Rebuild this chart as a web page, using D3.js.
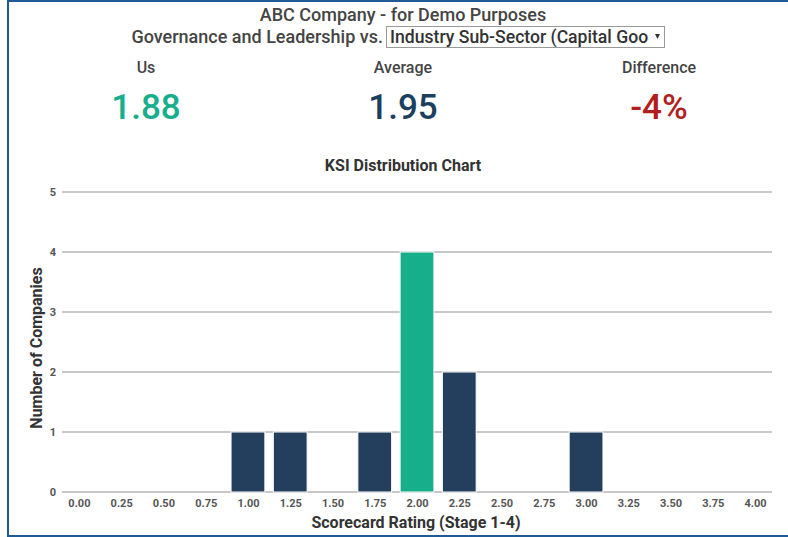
<!DOCTYPE html>
<html><head><meta charset="utf-8">
<script src="https://cdn.jsdelivr.net/npm/d3@7"></script>
<style>
html,body{margin:0;padding:0;background:#fff;}
svg{display:block;font-family:Roboto,"Noto Sans",sans-serif;}
</style></head>
<body><svg id="c" width="788" height="537"></svg>
<script>
const title = "ABC Company - for Demo Purposes";
const subtitle = "Governance and Leadership vs.";
const selectText = "Industry Sub-Sector (Capital Goo";
const statLabels = ["Us", "Average", "Difference"];
const statValues = ["1.88", "1.95", "-4%"];
const statColors = ["#17ae8c", "#1b3f5f", "#b21d1d"];
const chartTitle = "KSI Distribution Chart";
const xTitle = "Scorecard Rating (Stage 1-4)";
const yTitle = "Number of Companies";
const xTicks = [0,0.25,0.5,0.75,1,1.25,1.5,1.75,2,2.25,2.5,2.75,3,3.25,3.5,3.75,4];
const yTicks = [0,1,2,3,4,5];
const binRatings = [1.00, 1.25, 1.75, 2.00, 2.25, 3.00];
const binCounts  = [1, 1, 1, 4, 2, 1];
const highlightRating = 2.00;

const svg = d3.select("#c");
// frame
svg.append("rect").attr("x",0).attr("y",0).attr("width",788).attr("height",537).attr("fill","#fff");
svg.append("line").attr("x1",7).attr("x2",788).attr("y1",1).attr("y2",1).attr("stroke","#1f5a96").attr("stroke-width",2);
svg.append("line").attr("x1",8).attr("x2",8).attr("y1",0).attr("y2",537).attr("stroke","#1f5a96").attr("stroke-width",2);
svg.append("line").attr("x1",7).attr("x2",788).attr("y1",536).attr("y2",536).attr("stroke","#1f5a96").attr("stroke-width",2);

svg.append("text").attr("x",403).attr("y",21).attr("text-anchor","middle")
  .attr("font-size",18).attr("fill","#444").attr("font-weight",500).text(title);
svg.append("text").attr("x",383).attr("y",43).attr("text-anchor","end")
  .attr("font-size",18).attr("fill","#444").attr("font-weight",500).text(subtitle);
svg.append("rect").attr("x",386.5).attr("y",26.5).attr("width",278).attr("height",21)
  .attr("fill","#fff").attr("stroke","#999");
svg.append("text").attr("x",390).attr("y",43).attr("font-size",17.6).attr("fill","#333").attr("font-weight",500).text(selectText);
svg.append("path").attr("d","M655,34 L660,34 L657.5,39 Z").attr("fill","#333");

const statX = [146, 403, 659];
statLabels.forEach((l,i)=>{
  svg.append("text").attr("x",statX[i]).attr("y",73).attr("text-anchor","middle")
    .attr("font-size",16).attr("font-weight",500).attr("fill","#444").text(l);
  svg.append("text").attr("x",statX[i]).attr("y",119).attr("text-anchor","middle")
    .attr("font-size",35).attr("font-weight",500).attr("fill",statColors[i]).text(statValues[i]);
});

svg.append("text").attr("x",403).attr("y",171).attr("text-anchor","middle")
  .attr("font-size",16).attr("font-weight",700).attr("fill","#333").text(chartTitle);

const x = d3.scaleLinear().domain([-0.1,4.1]).range([62,772]);
const y = d3.scaleLinear().domain([0,5]).range([492,192]);

// gridlines
svg.append("g").selectAll("line").data(yTicks).join("line")
  .attr("x1",62).attr("x2",772).attr("y1",d=>y(d)).attr("y2",d=>y(d))
  .attr("stroke","#c8c8c8").attr("stroke-width",2);

// y axis labels
const yAxis = d3.axisLeft(y).tickValues(yTicks).tickSize(0).tickPadding(0).tickFormat(d3.format("d"));
const yg = svg.append("g").attr("transform","translate(56,0)").call(yAxis);
yg.select(".domain").remove();
yg.selectAll("text").attr("font-size",11).attr("font-weight",700).attr("fill","#555")
  .attr("font-family","Roboto,sans-serif").attr("dy","0.35em");

// x axis labels
const xAxis = d3.axisBottom(x).tickValues(xTicks).tickSize(0).tickPadding(0).tickFormat(d3.format(".2f"));
const xg = svg.append("g").attr("transform","translate(0,499)").call(xAxis);
xg.select(".domain").remove();
xg.selectAll("text").attr("font-size",11).attr("font-weight",700).attr("fill","#555")
  .attr("font-family","Roboto,sans-serif").attr("dy","0.71em");

// bars
const bins = binRatings.map((r,i)=>({r, c: binCounts[i]}));
const bw = x(0.2) - x(0);
svg.append("g").selectAll("rect").data(bins).join("rect")
  .attr("x",d=>x(d.r)-bw/2).attr("width",bw)
  .attr("y",d=>y(d.c)).attr("height",d=>y(0)-y(d.c))
  .attr("fill",d=>d.r===highlightRating?"#17ae8c":"#243f5e")
  .attr("stroke","#fff").attr("stroke-width",1);

svg.append("text").attr("x",416).attr("y",528).attr("text-anchor","middle")
  .attr("font-size",16).attr("font-weight",700).attr("fill","#333").text(xTitle);
svg.append("text").attr("transform","translate(42,348) rotate(-90)").attr("text-anchor","middle")
  .attr("font-size",16).attr("font-weight",700).attr("fill","#333").text(yTitle);
</script></body></html>
